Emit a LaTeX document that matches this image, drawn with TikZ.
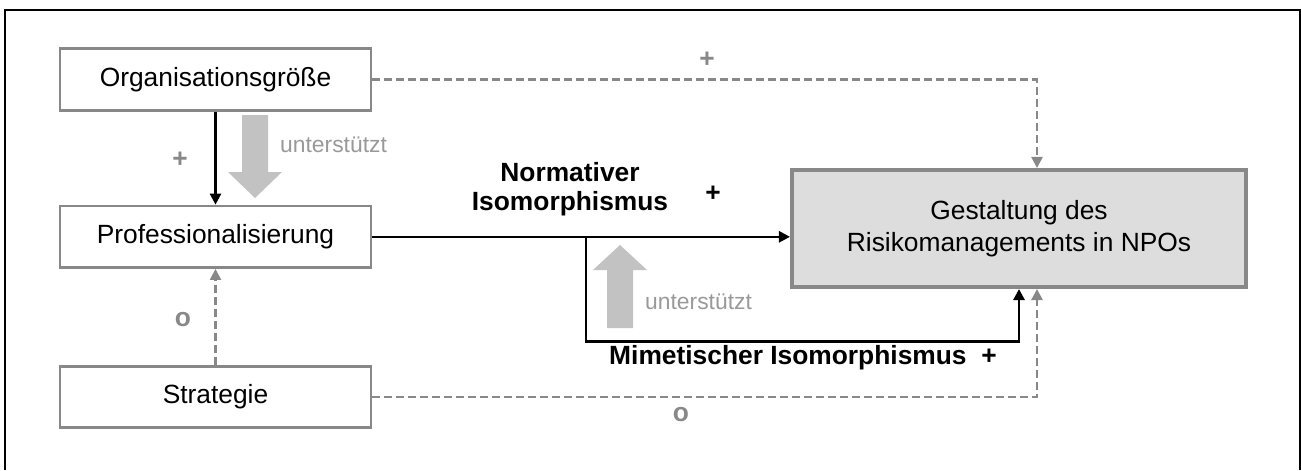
\documentclass[tikz,border=0pt]{standalone}
\usepackage{fontspec}
\setmainfont{Liberation Sans}
\usepackage{xcolor}
\usepackage{tikz}
\usetikzlibrary{arrows.meta,positioning,calc}

\definecolor{boxgray}{HTML}{888888}
\definecolor{boxfill}{HTML}{DDDDDD}
\definecolor{supportgray}{HTML}{C2C2C2}
\definecolor{textgray}{HTML}{999999}

\begin{document}
\begin{tikzpicture}[
    font=\fontsize{15}{18.2}\selectfont,
    node distance=1.9cm,
    factor/.style={rectangle, draw=boxgray, line width=1.6pt, fill=white, minimum width=6.22cm, minimum height=1.23cm, inner sep=0pt},
    target/.style={rectangle, draw=boxgray, line width=2.3pt, fill=boxfill, minimum width=9.08cm, minimum height=2.34cm, align=center},
    effect/.style={-{Triangle[length=0.22cm, width=0.22cm]}, line width=1.4pt},
    weak/.style={effect, boxgray, dash pattern=on 0.16cm off 0.08cm},
    sign/.style={font=\fontsize{15}{18}\selectfont\bfseries, text=boxgray},
    support/.style={font=\fontsize{13}{15}\selectfont, text=textgray, anchor=west}
]
\useasboundingbox (0,0) rectangle (26.02,9.4);

% outer frame (open at the bottom)
\draw[line width=1.2pt] (0.1,0) -- (0.1,9.2) -- (26.0,9.2) -- (26.0,0);

% Influencing factors
\node[factor] (size) at (4.31,7.81) {Organisationsgröße};
\node[factor, below=1.86cm of size] (prof) {Professionalisierung};
\node[factor, below=1.92cm of prof] (strat) {Strategie};

% Outcome
\node[target] (risk) at (20.38,4.83) {Gestaltung des\\Risikomanagements in NPOs};

% Supporting effects (block arrows)
\fill[supportgray] (4.84,7.10) -- (5.36,7.10) -- (5.36,5.96) -- (5.64,5.96) -- (5.10,5.44) -- (4.56,5.96) -- (4.84,5.96) -- cycle;
\node[support] (supp1) at (5.48,6.5) {unterstützt};
\fill[supportgray] (12.14,2.84) -- (12.66,2.84) -- (12.66,4.00) -- (12.94,4.00) -- (12.40,4.50) -- (11.86,4.00) -- (12.14,4.00) -- cycle;
\node[support] (supp2) at (12.78,3.36) {unterstützt};

% Direct effects
\draw[effect] (size) -- (prof);
\node[sign] (p1) at (3.6,6.2) {+};
\draw[weak] (strat) -- (prof);
\node[sign] (o1) at (3.66,3.0) {o};

\draw[weak] (size.east) -| ([xshift=0.36cm]risk.north);
\node[sign] (p2) at (14.14,8.2) {+};
\draw[weak] (strat.east) -| ([xshift=0.36cm]risk.south);
\node[sign] (o2) at (13.62,1.1) {o};

% Isomorphism paths
\draw[effect] (prof.east) -- (prof.east -| risk.west);
\node[align=center, font=\fontsize{15}{16.2}\selectfont\bfseries] (norm) at (11.4,5.62) {Normativer\\Isomorphismus};
\node[font=\fontsize{15}{18}\selectfont\bfseries] (p3) at (14.26,5.52) {+};

\coordinate (split) at (11.72,0);
\draw[effect, line width=1.6pt] (prof.east -| split) -- ++(0,-2.1) -| (risk.south);
\node[font=\fontsize{15}{18}\selectfont\bfseries, anchor=west] (mim) at (12.06,2.24) {Mimetischer Isomorphismus\ \ +};

\end{tikzpicture}
\end{document}
